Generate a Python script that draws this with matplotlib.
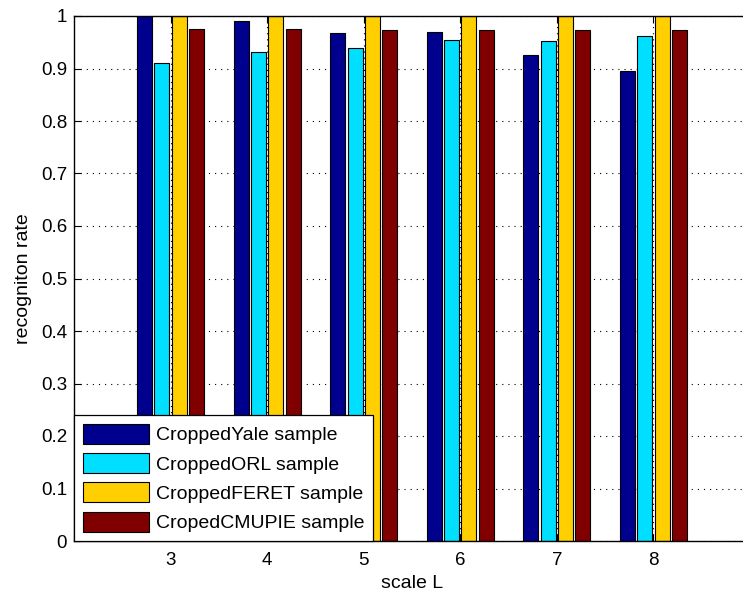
import numpy as np
import matplotlib
matplotlib.use("Agg")
import matplotlib.pyplot as plt
from matplotlib.ticker import FormatStrFormatter

plt.rcParams["font.family"] = ["Liberation Sans", "DejaVu Sans"]

scales = [3, 4, 5, 6, 7, 8]
series_names = ["CroppedYale sample", "CroppedORL sample", "CroppedFERET sample", "CropedCMUPIE sample"]
yale = [1.0, 0.991, 0.967, 0.970, 0.926, 0.896]
orl = [0.911, 0.931, 0.939, 0.955, 0.952, 0.961]
feret = [1.0, 1.0, 1.0, 1.0, 1.0, 1.0]
cmupie = [0.976, 0.976, 0.973, 0.973, 0.973, 0.973]

# jet colormap picks, like MATLAB's default bar colours
colors = [(0, 0, 0.5625), (0, 0.875, 1), (1, 0.8125, 0), (0.5, 0, 0)]

fig = plt.figure(figsize=(7.43, 5.98), dpi=100)
ax = fig.add_axes([74 / 743, 57 / 598, 676 / 743, 525 / 598])

x = np.array(scales, dtype=float)
offsets = [-0.27, -0.09, 0.09, 0.27]
width = 0.155
for vals, off, col, name in zip([yale, orl, feret, cmupie], offsets, colors, series_names):
    ax.bar(x + off, vals, width, color=col, edgecolor="black", linewidth=0.8, label=name, zorder=1)

ax.set_xlim(2, 9)
ax.set_ylim(0, 1)
ax.set_xticks(scales)
ax.set_yticks(np.arange(0, 1.01, 0.1))
ax.yaxis.set_major_formatter(FormatStrFormatter("%g"))
ax.tick_params(direction="in", length=5, labelsize=13.5, top=True, right=True, width=0.8)
ax.tick_params(axis="y", pad=5)
ax.tick_params(axis="x", pad=8)

ax.set_axisbelow(True)
ax.grid(True, color="black", linestyle=(0, (1, 4.5)), linewidth=0.8)
ax.xaxis.set_zorder(2.5)
for sp in ax.spines.values():
    sp.set_linewidth(1.0)
    sp.set_zorder(4)

ax.set_xlabel("scale L", fontsize=14, labelpad=4)
ax.set_ylabel("recogniton rate", fontsize=14, labelpad=6)

leg = ax.legend(loc="lower left", fontsize=14, borderaxespad=0, fancybox=False,
                edgecolor="black", framealpha=1, handlelength=3.4, handleheight=1.2,
                handletextpad=0.35, labelspacing=0.45, borderpad=0.45)
leg.get_frame().set_linewidth(0.9)
leg.set_zorder(5)

fig.savefig("out.png", dpi=100)
